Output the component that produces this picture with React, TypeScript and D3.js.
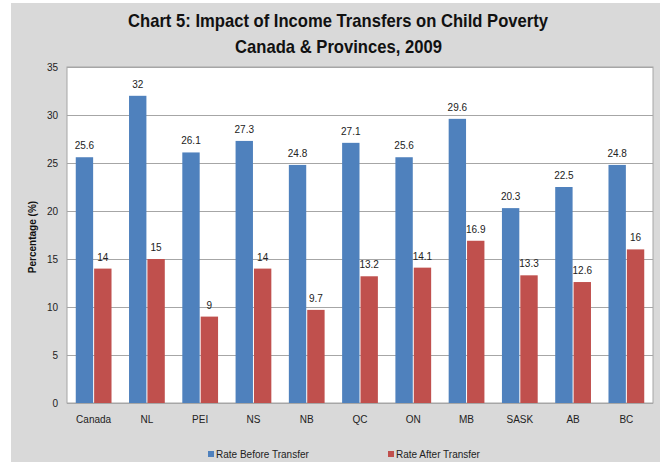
import React from "react";
import * as d3 from "d3";

const categories = ["Canada", "NL", "PEI", "NS", "NB", "QC", "ON", "MB", "SASK", "AB", "BC"];
const beforeValues = [25.6, 32, 26.1, 27.3, 24.8, 27.1, 25.6, 29.6, 20.3, 22.5, 24.8];
const afterValues = [14, 15, 9, 14, 9.7, 13.2, 14.1, 16.9, 13.3, 12.6, 16];
const seriesNames = ["Rate Before Transfer", "Rate After Transfer"];
const seriesColors = ["#4F81BD", "#C0504D"];
const yTicks = [0, 5, 10, 15, 20, 25, 30, 35];
const titleLines = ["Chart 5: Impact of Income Transfers on Child Poverty", "Canada & Provinces, 2009"];
const yTitle = "Percentage (%)";

const W = 660;
const H = 462;
const plot = { left: 67, right: 653, top: 67, bottom: 403 };
const font = "'Liberation Sans', Arial, sans-serif";

export default function App() {
  const x0 = d3.scaleBand<string>().domain(categories).range([plot.left, plot.right]).paddingInner(0.31).paddingOuter(0.155);
  const x1 = d3.scaleBand<string>().domain(["0", "1"]).range([0, x0.bandwidth()]).padding(0);
  const y = d3.scaleLinear().domain([0, 35]).range([plot.bottom, plot.top]);
  const series = [beforeValues, afterValues];

  return (
    <svg width={W} height={H} style={{ position: "absolute", left: 0, top: 0 }}>
      <rect x={11} y={3} width={W - 11} height={H - 3} fill="#D9D9D9" />
      <text x={128} y={27} textLength={420} lengthAdjust="spacingAndGlyphs" fontFamily={font} fontWeight="bold" fontSize={19} fill="#111">
        {titleLines[0]}
      </text>
      <text x={235} y={53} textLength={207} lengthAdjust="spacingAndGlyphs" fontFamily={font} fontWeight="bold" fontSize={19} fill="#111">
        {titleLines[1]}
      </text>
      <rect x={plot.left} y={plot.top} width={plot.right - plot.left} height={plot.bottom - plot.top} fill="#FFFFFF" stroke="#A6A6A6" strokeWidth={1} />
      {yTicks.map((t) => (
        <g key={t}>
          <line x1={plot.left} x2={plot.right} y1={Math.round(y(t)) + 0.5} y2={Math.round(y(t)) + 0.5} stroke="#A6A6A6" strokeWidth={1} />
          <text x={58} y={y(t) + 4} textAnchor="end" fontFamily={font} fontSize={10} fill="#222">
            {t}
          </text>
        </g>
      ))}
      {categories.map((c, i) => (
        <g key={c}>
          {series.map((vals, s) => {
            const bx = (x0(c) as number) + (x1(String(s)) as number);
            const bw = x1.bandwidth();
            const top = y(vals[i]);
            return (
              <g key={s}>
                <rect x={bx + 0.5} y={top} width={bw - 1} height={plot.bottom - top} fill={seriesColors[s]} />
                <text x={bx + bw / 2} y={top - 8} textAnchor="middle" fontFamily={font} fontSize={10} fill="#222">
                  {vals[i]}
                </text>
              </g>
            );
          })}
          <text x={(x0(c) as number) + x0.bandwidth() / 2} y={423} textAnchor="middle" fontFamily={font} fontSize={10} fill="#222">
            {c}
          </text>
        </g>
      ))}
      <text transform={`translate(36,237) rotate(-90)`} textAnchor="middle" fontFamily={font} fontWeight="bold" fontSize={10} fill="#111">
        {yTitle}
      </text>
      {seriesNames.map((n, s) => {
        const lx = s === 0 ? 208 : 388;
        return (
          <g key={n}>
            <rect x={lx} y={451} width={6} height={6} fill={seriesColors[s]} />
            <text x={lx + 8} y={458} fontFamily={font} fontSize={10} fill="#222">
              {n}
            </text>
          </g>
        );
      })}
    </svg>
  );
}
